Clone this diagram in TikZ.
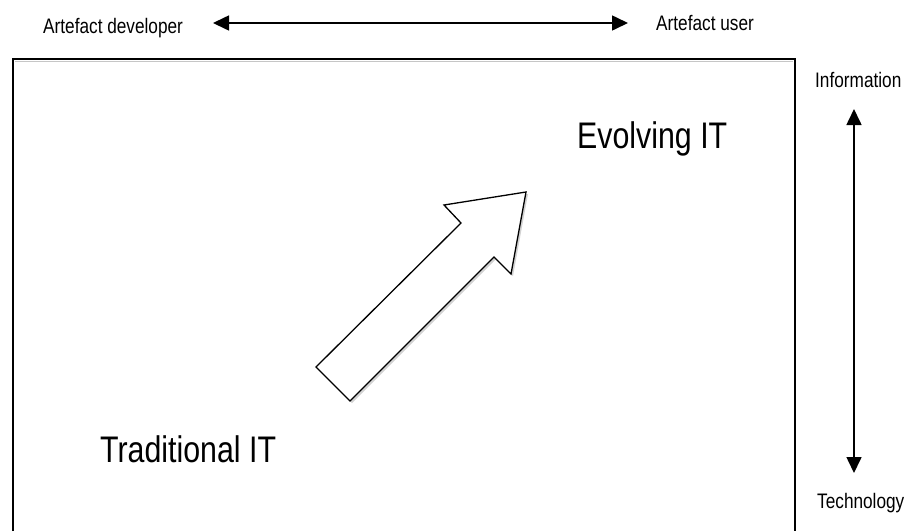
\documentclass[tikz,border=0pt]{standalone}
\usepackage{fontspec}
\newfontfamily\narrowsans[FakeStretch=0.82]{Liberation Sans}
\usetikzlibrary{arrows.meta}

\begin{document}
\begin{tikzpicture}[x=1pt, y=-1pt,
    small/.style={font=\narrowsans\fontsize{21}{25}\selectfont, inner sep=0pt, anchor=base west},
    large/.style={font=\narrowsans\fontsize{37}{44}\selectfont, inner sep=0pt, anchor=base west},
    axisline/.style={line width=1.6pt, {Triangle[length=16pt,width=15pt]}-{Triangle[length=16pt,width=15pt]}}]
    \useasboundingbox (0,0) rectangle (908,531);
    % labels
    \node[small] (developer) at (43,33) {Artefact developer};
    \node[small] (user) at (656,30) {Artefact user};
    \node[small] (information) at (815,87) {Information};
    \node[small] (technology) at (817,508) {Technology};
    \node[large] (evolving) at (577,148) {Evolving IT};
    \node[large] (traditional) at (100,462) {Traditional IT};
    % axes
    \coordinate (devend) at (213,23);
    \coordinate (userend) at (628,23);
    \coordinate (infoend) at (854,109);
    \coordinate (techend) at (854,473);
    \draw[axisline] (devend) -- (userend);
    \draw[axisline] (infoend) -- (techend);
    % frame, open at the bottom
    \draw[gray!45, line width=1pt] (15,61) -- (793,61);
    \draw[line width=1.6pt] (13,531) -- (13,59) -- (795,59) -- (795,531);
    % block arrow
    \fill[gray!35, shift={(2,2)}] (316,367) -- (350,401) -- (494,257) -- (511,274) -- (526,192) -- (444,205) -- (461,223) -- cycle;
    \draw[line width=1.3pt, fill=white, line join=miter] (316,367) -- (350,401) -- (494,257) -- (511,274) -- (526,192) -- (444,205) -- (461,223) -- cycle;
\end{tikzpicture}
\end{document}
